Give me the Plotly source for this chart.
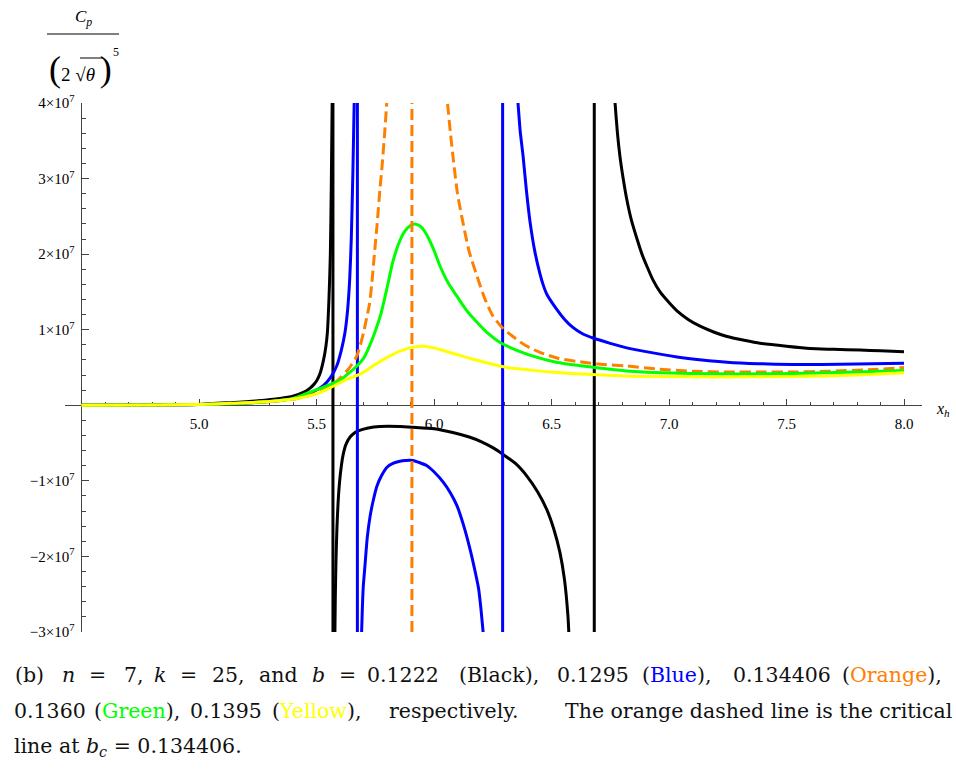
import numpy as np
import plotly.graph_objects as go

SCALE = 1e7  # curve values below are in units of 10^7

# ---- Black, b = 0.1222 ----
black_x1 = [4.50, 4.80, 5.00, 5.13, 5.25, 5.345, 5.40, 5.444, 5.47, 5.49, 5.50, 5.515, 5.53, 5.54, 5.546, 5.553, 5.559, 5.563, 5.567]
black_y1 = [0.0, 0.005, 0.012, 0.035, 0.06, 0.09, 0.12, 0.17, 0.22, 0.28, 0.32, 0.42, 0.60, 0.78, 0.95, 1.40, 2.0, 2.9, 4.1]
black_x2 = [5.578, 5.580, 5.583, 5.587, 5.592, 5.598, 5.605, 5.613, 5.625, 5.643, 5.66, 5.677, 5.72, 5.77, 5.855, 5.91, 6.00,
            6.08, 6.15, 6.20, 6.25, 6.294, 6.35, 6.396, 6.44, 6.48, 6.51, 6.536, 6.555, 6.57, 6.575]
black_y2 = [-3.1, -2.55, -2.05, -1.62, -1.28, -1.02, -0.82, -0.66, -0.52, -0.42, -0.37, -0.34, -0.30, -0.28, -0.28, -0.29, -0.31,
            -0.36, -0.42, -0.48, -0.56, -0.65, -0.78, -0.94, -1.14, -1.38, -1.64, -1.95, -2.3, -2.79, -3.1]
black_x3 = [6.768, 6.770, 6.780, 6.791, 6.805, 6.82, 6.84, 6.864, 6.885, 6.906, 6.93, 6.962, 7.0, 7.034, 7.08, 7.13, 7.19,
            7.247, 7.32, 7.387, 7.5, 7.6, 7.7, 7.813, 7.9, 8.0]
black_y3 = [4.1, 4.02, 3.62, 3.30, 3.0, 2.73, 2.45, 2.20, 2.0, 1.84, 1.67, 1.50, 1.36, 1.25, 1.14, 1.05, 0.97,
            0.91, 0.86, 0.82, 0.78, 0.75, 0.74, 0.73, 0.72, 0.71]
black_poles = [5.570, 6.682]

# ---- Blue, b = 0.1295 ----
blue_x1 = [4.50, 4.80, 5.00, 5.20, 5.30, 5.416, 5.48, 5.529, 5.56, 5.586, 5.605, 5.621, 5.632, 5.641, 5.648, 5.655, 5.661]
blue_y1 = [0.0, 0.004, 0.01, 0.03, 0.05, 0.10, 0.17, 0.26, 0.37, 0.52, 0.72, 0.96, 1.25, 1.65, 2.2, 3.1, 4.1]
blue_x2 = [5.690, 5.692, 5.695, 5.699, 5.706, 5.716, 5.728, 5.74, 5.757, 5.777, 5.80, 5.825, 5.855, 5.88, 5.91, 5.94, 5.97,
           6.00, 6.04, 6.07, 6.098, 6.125, 6.153, 6.175, 6.19, 6.20, 6.209, 6.213]
blue_y2 = [-3.1, -3.0, -2.7, -2.4, -2.13, -1.75, -1.47, -1.28, -1.07, -0.93, -0.82, -0.77, -0.74, -0.73, -0.73, -0.76, -0.80,
           -0.88, -1.02, -1.16, -1.33, -1.58, -1.90, -2.20, -2.43, -2.7, -3.0, -3.1]
blue_x3 = [6.355, 6.357, 6.367, 6.379, 6.393, 6.409, 6.43, 6.451, 6.465, 6.48, 6.52, 6.555, 6.591, 6.63, 6.677, 6.75, 6.82, 6.92,
           7.034, 7.14, 7.247, 7.38, 7.528, 7.65, 7.80, 8.0]
blue_y3 = [4.1, 4.02, 3.62, 3.30, 2.85, 2.42, 2.02, 1.74, 1.59, 1.47, 1.28, 1.14, 1.03, 0.95, 0.89, 0.82, 0.76, 0.70,
           0.64, 0.60, 0.57, 0.55, 0.54, 0.54, 0.545, 0.555]
blue_poles = [5.674, 6.292]

# ---- Orange (critical), b_c = 0.134406 ----
orange_x1 = [4.50, 4.80, 5.00, 5.20, 5.30, 5.40, 5.50, 5.572, 5.60, 5.628, 5.65, 5.671, 5.685, 5.70, 5.713, 5.725, 5.735,
             5.745, 5.758, 5.77, 5.78, 5.79, 5.80]
orange_y1 = [0.0, 0.004, 0.01, 0.03, 0.05, 0.08, 0.16, 0.28, 0.36, 0.45, 0.54, 0.65, 0.78, 0.96, 1.15, 1.33, 1.60,
             1.95, 2.40, 2.86, 3.20, 3.60, 4.05]
orange_x2 = [6.052, 6.057, 6.07, 6.083, 6.10, 6.123, 6.15, 6.183, 6.215, 6.251, 6.29, 6.336, 6.39, 6.451, 6.53, 6.634,
             6.72, 6.82, 6.95, 7.10, 7.25, 7.39, 7.53, 7.67, 7.85, 8.0]
orange_y2 = [4.2, 4.02, 3.6, 3.23, 2.8, 2.42, 2.03, 1.71, 1.42, 1.18, 1.03, 0.91, 0.79, 0.70, 0.62, 0.57,
             0.54, 0.52, 0.48, 0.45, 0.44, 0.44, 0.44, 0.45, 0.47, 0.50]
critical_xh = 5.906

# ---- Green, b = 0.1360 ----
green_x = [4.50, 4.80, 5.00, 5.20, 5.30, 5.40, 5.486, 5.57, 5.60, 5.672, 5.70, 5.725, 5.75, 5.775, 5.80, 5.825, 5.85, 5.875, 5.90, 5.92,
           5.945, 5.97, 6.00, 6.026, 6.06, 6.098, 6.14, 6.183, 6.23, 6.281, 6.35, 6.421, 6.52, 6.634, 6.834, 7.10, 7.30, 7.53, 7.80, 8.00]
green_y = [0.0, 0.004, 0.01, 0.03, 0.05, 0.09, 0.19, 0.29, 0.33, 0.52, 0.62, 0.78, 0.98, 1.22, 1.55, 1.90, 2.14, 2.30, 2.38, 2.40,
           2.36, 2.25, 2.05, 1.84, 1.62, 1.44, 1.25, 1.10, 0.95, 0.83, 0.73, 0.65, 0.57, 0.52, 0.45, 0.42, 0.415, 0.42, 0.44, 0.46]

# ---- Yellow, b = 0.1395 ----
yellow_x = [4.50, 4.80, 5.00, 5.132, 5.30, 5.416, 5.50, 5.557, 5.62, 5.69, 5.75, 5.799, 5.85, 5.898, 5.953, 6.00, 6.055, 6.11,
            6.166, 6.24, 6.31, 6.40, 6.494, 6.65, 6.834, 6.96, 7.20, 7.53, 7.80, 8.00]
yellow_y = [0.0, 0.005, 0.012, 0.026, 0.05, 0.09, 0.15, 0.23, 0.33, 0.42, 0.54, 0.63, 0.71, 0.76, 0.78, 0.76, 0.71, 0.66,
            0.61, 0.55, 0.50, 0.47, 0.44, 0.41, 0.385, 0.38, 0.375, 0.38, 0.40, 0.43]

# ---- axes ----
x_major = [5.0, 5.5, 6.0, 6.5, 7.0, 7.5, 8.0]
x_major_text = ["5.0", "5.5", "6.0", "6.5", "7.0", "7.5", "8.0"]
y_major = [-3, -2, -1, 1, 2, 3, 4]
y_major_text = ["\u22123\u00d710<sup>7</sup>", "\u22122\u00d710<sup>7</sup>", "\u22121\u00d710<sup>7</sup>",
                "1\u00d710<sup>7</sup>", "2\u00d710<sup>7</sup>", "3\u00d710<sup>7</sup>", "4\u00d710<sup>7</sup>"]

BLACK = "#000000"
BLUE = "#0000ff"
ORANGE = "#ff8000"
GREEN = "#00ff00"
YELLOW = "#ffff00"
AXIS = "#444444"
SERIF = "Liberation Serif"
CAPFONT = "DejaVu Serif"

W, H = 956, 769
ML, MR, MT, MB = 65, 34, 103, 137
X0, X1 = 4.4298, 8.0766
Y0, Y1 = -3.0, 4.0

def scaled(v):
    return [None if t is None else t * SCALE for t in v]

def join(*parts):
    xs, ys = [], []
    for px_, py_ in parts:
        if xs:
            xs.append(None); ys.append(None)
        xs += px_; ys += py_
    return xs, ys

fig = go.Figure()
LW = 3

def add_curve(parts, color, dash=None):
    xs, ys = join(*parts)
    fig.add_trace(go.Scatter(x=xs, y=scaled(ys), mode="lines", connectgaps=False,
                             line=dict(color=color, width=LW, dash=dash, shape="spline", smoothing=0.6),
                             showlegend=False, hoverinfo="skip"))

def add_vline(xv, color, dash=None):
    fig.add_trace(go.Scatter(x=[xv, xv], y=[Y0 * SCALE, Y1 * SCALE], mode="lines",
                             line=dict(color=color, width=LW, dash=dash), showlegend=False, hoverinfo="skip"))

add_curve([(black_x1, black_y1), (black_x2, black_y2), (black_x3, black_y3)], BLACK)
for p in black_poles:
    add_vline(p, BLACK)
add_curve([(blue_x1, blue_y1), (blue_x2, blue_y2), (blue_x3, blue_y3)], BLUE)
for p in blue_poles:
    add_vline(p, BLUE)
add_curve([(orange_x1, orange_y1), (orange_x2, orange_y2)], ORANGE, dash="11px,5px")
add_curve([(green_x, green_y)], GREEN)
add_curve([(yellow_x, yellow_y)], YELLOW)
add_vline(critical_xh, ORANGE, dash="11px,5px")

ypos = (4.5 - X0) / (X1 - X0)
xpos = (0 - Y0) / (Y1 - Y0)

fig.update_layout(
    width=W, height=H,
    margin=dict(l=ML, r=MR, t=MT, b=MB, pad=0),
    plot_bgcolor="white", paper_bgcolor="white",
    font=dict(family=SERIF, color="black", size=15),
    xaxis=dict(range=[X0, X1], anchor="free", position=xpos, showline=True, linecolor=AXIS, linewidth=1,
               ticks="inside", ticklen=6, tickwidth=1, tickcolor=AXIS, tickmode="array",
               tickvals=x_major, ticktext=x_major_text, showgrid=False, zeroline=False,
               tickfont=dict(family=SERIF, size=15), ticklabelstandoff=5, automargin=False, layer="below traces",
               minor=dict(tickmode="array", tickvals=[round(v, 1) for v in np.arange(4.6, 8.05, 0.1)],
                          ticks="inside", ticklen=3, tickwidth=1, tickcolor=AXIS, showgrid=False)),
    yaxis=dict(range=[Y0 * SCALE, Y1 * SCALE], anchor="free", position=ypos, showline=True, linecolor=AXIS, linewidth=1,
               ticks="inside", ticklen=7, tickwidth=1, tickcolor=AXIS, tickmode="array",
               tickvals=[v * SCALE for v in y_major], ticktext=y_major_text, showgrid=False, zeroline=False,
               tickfont=dict(family=SERIF, size=15), ticklabelstandoff=4, automargin=False, layer="below traces",
               minor=dict(tickmode="array", tickvals=[round(v, 1) * SCALE for v in np.arange(-3.0, 4.01, 0.2)],
                          ticks="inside", ticklen=4, tickwidth=1, tickcolor=AXIS, showgrid=False)),
)

def pxx(p):
    return (p - ML) / (W - ML - MR)

def pxy(p):
    return (H - MB - p) / (H - MT - MB)

ann = []
def text_at(x, y, t, size, anchor="left", color="#111", family=SERIF):
    ann.append(dict(x=pxx(x), y=pxy(y), xref="paper", yref="paper", text=t, showarrow=False,
                    xanchor=anchor, yanchor="middle", align="left", font=dict(family=family, size=size, color=color)))

text_at(943, 409, "<i>x</i><sub><i>h</i></sub>", 16, "center", "black")
text_at(83, 18, "<i>C</i><sub><i>p</i></sub>", 17, "center", "black")
text_at(80, 69, "<span style='font-size:36px'>(</span>2 \u221a<i>\u03b8</i> <span style='font-size:36px'>)</span>",
        19, "center", "black")
text_at(116, 52, "5", 12, "center", "black")

CAP = 20.5
line1 = [(13, "(b)"), (60, "<i>n</i>"), (87, "="), (122, "7,"), (152, "<i>k</i>"), (178, "="), (210, "25,"),
         (257, "and"), (310, "<i>b</i>"), (337, "="), (365, "0.1222"), (457, "(Black),"), (555, "0.1295"),
         (640, "(<span style='color:#0000ff'>Blue</span>),"), (731, "0.134406"),
         (840, "(<span style='color:#ff8000'>Orange</span>),")]
line2 = [(12, "0.1360"), (92, "(<span style='color:#00ff00'>Green</span>),"), (188, "0.1395"),
         (270, "(<span style='color:#ffff00'>Yellow</span>),"), (387, "respectively.")]
for xx, t in line1:
    text_at(xx, 675, t, CAP, family=CAPFONT)
for xx, t in line2:
    text_at(xx, 711, t, CAP, family=CAPFONT)
text_at(954, 711, "The orange dashed line is the critical", CAP, anchor="right", family=CAPFONT)
text_at(12, 747, "line at <i>b<sub>c</sub></i> = 0.134406.", CAP, family=CAPFONT)

fig.update_layout(annotations=ann)

fig.add_shape(type="line", xref="paper", yref="paper", x0=pxx(47), x1=pxx(119), y0=pxy(34), y1=pxy(34),
              line=dict(color="black", width=1))
fig.add_shape(type="line", xref="paper", yref="paper", x0=pxx(80), x1=pxx(103), y0=pxy(58), y1=pxy(58),
              line=dict(color="black", width=1))

fig.write_html("out.html", config={"displayModeBar": False},
               post_script="document.body.style.margin='0px';")
